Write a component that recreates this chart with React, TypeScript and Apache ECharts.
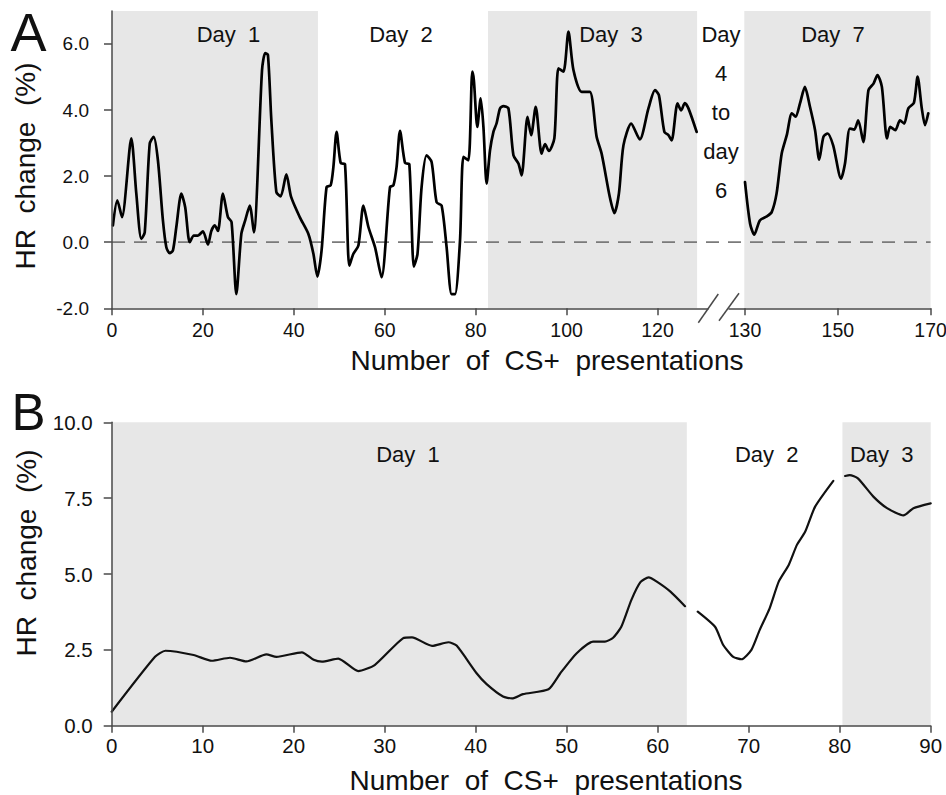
import React, { useEffect, useRef } from "react";
import * as echarts from "echarts";

// ---------- Panel A data (HR change %, days 1-3, continuous) ----------
const aLeftX = [
  0.2, 1.17, 2.2, 4.25, 5.35, 6.45, 7.2, 8.3, 9.17, 10.1, 11.2, 11.95, 12.7, 13.4, 14.15, 15.25, 16.1, 17.1, 18.0, 18.9,
  20.0, 21.1, 21.85, 22.6, 23.3, 24.4, 25.5, 26.3, 27.35, 28.45, 29.3, 30.3, 31.2, 33.0, 33.7, 34.3, 35.05, 36.15, 37.1, 38.35,
  39.4, 41.3, 43.2, 44.3, 45.17, 46.1, 47.2, 48.1, 48.7, 49.4, 50.3, 51.25, 52.2, 53.1, 54.2, 55.3, 56.4, 57.85, 59.3, 61.15,
  61.9, 62.6, 63.35, 64.45, 65.4, 66.4, 67.2, 68.1, 69.2, 70.3, 71.4, 72.5, 73.6, 74.7, 75.45, 76.55, 77.3, 78.4, 79.25, 79.6,
  80.36, 81.1, 81.7, 82.4, 83.15, 83.9, 84.6, 85.35, 86.1, 87.2, 88.3, 89.4, 90.1, 91.4, 92.2, 93.2, 94.5, 95.25, 96.1, 97.3,
  98.2, 99.3, 100.4, 101.5, 103.3, 105.1, 106.6, 107.7, 109.5, 110.5, 111.5, 112.5, 114.2, 116.1, 118.0, 119.45, 120.3, 121.5, 122.4, 123.1,
  124.4, 125.2, 126.0, 126.8, 128.6,
];
const aLeftY = [
  0.51, 1.27, 0.76, 3.14, 1.47, 0.1, 0.3, 2.98, 3.19, 2.48, 0.66, -0.15, -0.33, -0.25, 0.46, 1.47, 1.06, 0.0, 0.2, 0.2,
  0.33, -0.07, 0.34, 0.51, 0.34, 1.47, 0.76, 0.61, -1.57, 0.25, 0.66, 1.11, 0.3, 5.21, 5.72, 5.67, 3.69, 1.52, 1.39, 2.05,
  1.37, 0.76, 0.25, -0.35, -1.04, -0.25, 1.67, 1.72, 2.28, 3.34, 2.4, 2.36, -0.71, -0.35, -0.1, 1.11, 0.46, -0.15, -1.06, 1.67,
  1.72, 2.28, 3.37, 2.4, 2.36, -0.74, -0.35, 1.67, 2.63, 2.43, 1.21, 1.11, -0.15, -1.57, -1.57, 0.05, 2.58, 2.48, 5.16, 4.9,
  3.49, 4.35, 3.49, 1.77, 2.78, 3.34, 3.6, 4.05, 4.12, 4.05, 2.63, 2.38, 2.02, 3.79, 3.24, 4.1, 2.68, 2.97, 2.76, 3.14,
  5.26, 5.16, 6.37, 5.21, 4.55, 4.55, 3.19, 2.68, 1.37, 0.88, 1.47, 2.93, 3.59, 3.11, 4.05, 4.6, 4.45, 3.34, 3.24, 3.08,
  4.2, 3.99, 4.21, 4.05, 3.34,
];
// ---------- Panel A data (day 7) ----------
const aRightX = [
  130.0, 131.1, 132.0, 133.2, 134.7, 135.75, 136.8, 137.9, 139.0, 140.1, 140.9, 141.85, 142.9, 144.0, 145.1, 146.0, 146.9, 147.8, 149.0, 150.7,
  151.55, 152.6, 153.55, 154.4, 155.5, 156.6, 157.7, 158.55, 159.5, 160.6, 161.3, 162.4, 163.4, 164.3, 165.2, 166.4, 167.2, 168.1, 168.8, 169.5,
];
const aRightY = [
  1.82, 0.56, 0.23, 0.66, 0.78, 0.91, 1.47, 2.68, 3.24, 3.9, 3.8, 4.2, 4.7, 4.1, 3.39, 2.5, 3.19, 3.29, 2.93, 1.92,
  2.38, 3.44, 3.41, 3.69, 3.03, 4.6, 4.8, 5.06, 4.7, 3.14, 3.49, 3.39, 3.69, 3.59, 4.05, 4.22, 5.01, 4.05, 3.54, 3.9,
];

// ---------- Panel B data ----------
const bDay1X = [0, 4.76, 5.9, 9, 11, 13, 14.8, 17, 18.1, 20.9, 22.2, 23.1, 24.9, 27.1, 28.9, 32.0, 33.0, 35.2, 37.0, 37.9, 40.1, 41.2, 43.0, 44.0, 45.2, 48.0, 49.3, 51.1, 52.9, 54.2, 55.1, 56.0, 57.1, 58.1, 59.0, 59.9, 61.4, 63.0];
const bDay1Y = [0.46, 2.27, 2.47, 2.33, 2.14, 2.24, 2.12, 2.35, 2.27, 2.42, 2.17, 2.11, 2.21, 1.8, 2.0, 2.88, 2.91, 2.63, 2.75, 2.64, 1.73, 1.37, 0.96, 0.9, 1.04, 1.2, 1.73, 2.39, 2.77, 2.77, 2.9, 3.26, 4.14, 4.73, 4.89, 4.75, 4.42, 3.94];
const bDay2X = [64.4, 66.3, 67.2, 68.3, 69.2, 70.3, 71.2, 72.3, 73.3, 74.4, 75.3, 76.2, 77.3, 79.3];
const bDay2Y = [3.76, 3.26, 2.66, 2.27, 2.19, 2.5, 3.15, 3.87, 4.75, 5.3, 5.96, 6.39, 7.22, 8.07];
const bDay3X = [80.6, 81.1, 82.0, 83.7, 85.2, 87.0, 88.1, 90.0];
const bDay3Y = [8.23, 8.26, 8.15, 7.55, 7.17, 6.93, 7.17, 7.33];

// ---------- Shaded day ranges ----------
const shadeALeft = [[0, 45.3], [82.7, 128.7]];
const shadeARight = [[129.85, 170]];
const shadeB = [[0, 63.2], [80.3, 90]];

// ---------- Tick values ----------
const aLeftTicks = [0, 20, 40, 60, 80, 100, 120];
const aRightTicks = [130, 150, 170];
const aYTicks = [-2, 0, 2, 4, 6];

// ---------- Texts ----------
const yTitle = "HR  change  (%)";
const xTitle = "Number  of  CS+  presentations";
const dayLabelsA = ["Day  1", "Day  2", "Day  3", "Day  7"];
const gapLabelLines = ["Day", "4", "to", "day", "6"];
const dayLabelsB = ["Day  1", "Day  2", "Day  3"];

const FONT = "'Liberation Sans', Arial, Helvetica, sans-serif";
const AXIS_COLOR = "#4a4a4a";
const TEXT_COLOR = "#111";
const SHADE = "#e7e7e7";

const zip = (xs: number[], ys: number[]) => xs.map((x, i) => [x, ys[i]]);
const areas = (r: number[][]) => r.map(([a, b]) => [{ xAxis: a }, { xAxis: b }]);

function txt(text: string, x: number, y: number, size: number, extra: any = {}) {
  return {
    type: "text",
    x,
    y,
    z: 100,
    ...extra,
    style: {
      text,
      fill: TEXT_COLOR,
      fontSize: size,
      fontFamily: FONT,
      align: "center",
      verticalAlign: "middle",
      textAlign: "center",
      textVerticalAlign: "middle",
    },
  };
}

export default function App() {
  const ref = useRef<HTMLDivElement>(null);
  useEffect(() => {
    if (!ref.current) return;
    const chart = echarts.init(ref.current, undefined, { renderer: "svg" });

    const baseX = (grid: number, min: number, max: number, ticks: number[] | null, labelSize: number, margin: number, interval?: number) => ({
      type: "value",
      gridIndex: grid,
      min,
      max,
      ...(interval ? { interval } : {}),
      z: 5,
      axisLine: { show: true, onZero: false, lineStyle: { color: AXIS_COLOR, width: 1.5 } },
      axisTick: { show: true, length: 7, lineStyle: { color: AXIS_COLOR, width: 1.5 }, ...(ticks ? { customValues: ticks } : {}) },
      axisLabel: {
        show: true,
        fontSize: labelSize,
        color: TEXT_COLOR,
        fontFamily: FONT,
        margin,
        ...(ticks ? { customValues: ticks } : {}),
      },
      splitLine: { show: false },
    });
    const hidden = (grid: number, min: number, max: number) => ({
      type: "value",
      gridIndex: grid,
      min,
      max,
      show: false,
      axisLine: { onZero: false },
      splitLine: { show: false },
    });

    const lineA = { color: "#000", width: 2.7, join: "round", cap: "round" };
    const lineB = { color: "#111", width: 2.2, join: "round", cap: "round" };

    const option: any = {
      animation: false,
      textStyle: { fontFamily: FONT },
      grid: [
        { left: 112, top: 10.9, width: 596, height: 297.4, containLabel: false, outerBoundsMode: "none" },
        { left: 729, top: 10.9, width: 201.6, height: 297.4, containLabel: false, outerBoundsMode: "none" },
        { left: 112, top: 10.9, width: 818.6, height: 297.4, containLabel: false, outerBoundsMode: "none" },
        { left: 111.7, top: 422.3, width: 819, height: 303.4, containLabel: false, outerBoundsMode: "none" },
      ],
      xAxis: [
        baseX(0, 0, 131.1, aLeftTicks, 19.5, 12),
        baseX(1, 126.55, 170, aRightTicks, 19.5, 12),
        hidden(2, 0, 1),
        baseX(3, 0, 90, null, 20.5, 9, 10),
      ],
      yAxis: [
        {
          type: "value",
          gridIndex: 0,
          min: -2,
          max: 7,
          z: 5,
          axisLine: { show: true, onZero: false, lineStyle: { color: AXIS_COLOR, width: 1.5 } },
          axisTick: { show: true, length: 8, customValues: aYTicks, lineStyle: { color: AXIS_COLOR, width: 1.5 } },
          axisLabel: {
            show: true,
            customValues: aYTicks,
            fontSize: 19,
            color: TEXT_COLOR,
            fontFamily: FONT,
            margin: 23,
            formatter: (v: number) => v.toFixed(1),
          },
          splitLine: { show: false },
        },
        hidden(1, -2, 7),
        hidden(2, -2, 7),
        {
          type: "value",
          gridIndex: 3,
          min: 0,
          max: 10,
          interval: 2.5,
          z: 5,
          axisLine: { show: true, onZero: false, lineStyle: { color: AXIS_COLOR, width: 1.5 } },
          axisTick: { show: true, length: 8, lineStyle: { color: AXIS_COLOR, width: 1.5 } },
          axisLabel: {
            show: true,
            fontSize: 20.5,
            color: TEXT_COLOR,
            fontFamily: FONT,
            margin: 19,
            formatter: (v: number) => v.toFixed(1),
          },
          splitLine: { show: false },
        },
      ],
      series: [
        {
          type: "line",
          name: "Days 1-3",
          xAxisIndex: 0,
          yAxisIndex: 0,
          data: zip(aLeftX, aLeftY),
          showSymbol: false,
          symbol: "none",
          smooth: 0.25,
          z: 3,
          lineStyle: lineA,
          markArea: { silent: true, z: 1, itemStyle: { color: SHADE }, data: areas(shadeALeft) },
        },
        {
          type: "line",
          name: "Day 7",
          xAxisIndex: 1,
          yAxisIndex: 1,
          data: zip(aRightX, aRightY),
          showSymbol: false,
          symbol: "none",
          smooth: 0.25,
          z: 3,
          lineStyle: lineA,
          markArea: { silent: true, z: 1, itemStyle: { color: SHADE }, data: areas(shadeARight) },
        },
        {
          type: "line",
          name: "zero",
          xAxisIndex: 2,
          yAxisIndex: 2,
          data: [[0, 0], [1, 0]],
          showSymbol: false,
          symbol: "none",
          z: 2,
          lineStyle: { color: "#7a7a7a", width: 1.8, type: [13, 9] },
        },
        {
          type: "line",
          name: "B Day 1",
          xAxisIndex: 3,
          yAxisIndex: 3,
          data: zip(bDay1X, bDay1Y),
          showSymbol: false,
          symbol: "none",
          smooth: 0.2,
          z: 3,
          lineStyle: lineB,
          markArea: { silent: true, z: 1, itemStyle: { color: SHADE }, data: areas(shadeB) },
        },
        {
          type: "line",
          name: "B Day 2",
          xAxisIndex: 3,
          yAxisIndex: 3,
          data: zip(bDay2X, bDay2Y),
          showSymbol: false,
          symbol: "none",
          smooth: 0.2,
          z: 3,
          lineStyle: lineB,
        },
        {
          type: "line",
          name: "B Day 3",
          xAxisIndex: 3,
          yAxisIndex: 3,
          data: zip(bDay3X, bDay3Y),
          showSymbol: false,
          symbol: "none",
          smooth: 0.2,
          z: 3,
          lineStyle: lineB,
        },
      ],
      graphic: [
        // panel letters
        txt("A", 28.5, 32, 54),
        txt("B", 28.5, 412, 51),
        // axis titles
        txt(yTitle, 25, 166, 28, { rotation: Math.PI / 2 }),
        txt(yTitle, 26, 553, 28, { rotation: Math.PI / 2 }),
        txt(xTitle, 547, 360, 28),
        txt(xTitle, 546, 780, 28),
        // day labels panel A
        txt(dayLabelsA[0], 228.5, 34, 22),
        txt(dayLabelsA[1], 401, 34, 22),
        txt(dayLabelsA[2], 611, 34, 22),
        txt(dayLabelsA[3], 833, 34, 22),
        ...gapLabelLines.map((t, i) => txt(t, 721, 34 + i * 39, 22)),
        // day labels panel B
        txt(dayLabelsB[0], 408, 454, 22),
        txt(dayLabelsB[1], 766.7, 454, 22),
        txt(dayLabelsB[2], 881.7, 454, 22),
        // axis break marks
        { type: "line", z: 100, shape: { x1: 698.3, y1: 322.7, x2: 718.3, y2: 294 }, style: { stroke: AXIS_COLOR, lineWidth: 1.5 } },
        { type: "line", z: 100, shape: { x1: 719, y1: 320.7, x2: 739, y2: 293.3 }, style: { stroke: AXIS_COLOR, lineWidth: 1.5 } },
      ],
    };
    chart.setOption(option);
    return () => chart.dispose();
  }, []);
  return (
    <div
      ref={ref}
      style={{ position: "fixed", left: 0, top: 0, width: 946, height: 795, background: "#fff" }}
    />
  );
}
